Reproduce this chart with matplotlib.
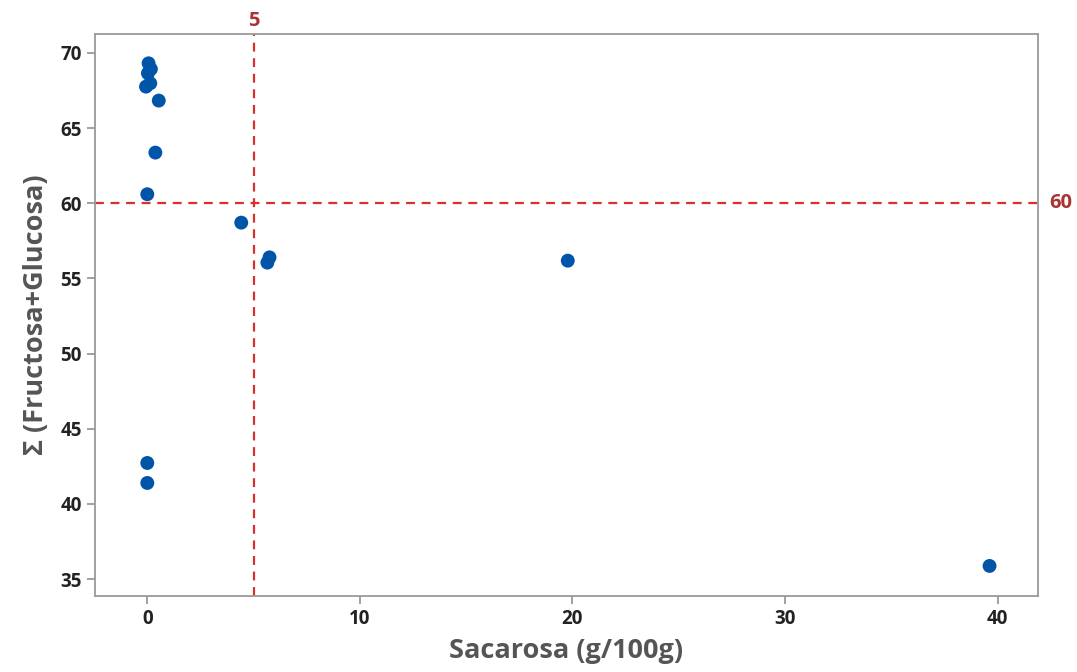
import matplotlib
matplotlib.use("Agg")
import matplotlib.pyplot as plt

plt.rcParams['font.family'] = ['Open Sans', 'DejaVu Sans']

# Sacarosa (g/100g) vs suma de fructosa + glucosa
sacarosa = [0.06, 0.17, 0.03, 0.14, -0.06, 0.54, 0.38, 0.0, 4.42,
            5.75, 5.65, 19.78, 0.0, 0.0, 39.62]
fru_glu = [69.31, 68.93, 68.65, 67.98, 67.76, 66.83, 63.37, 60.6, 58.71,
           56.4, 56.05, 56.18, 42.72, 41.39, 35.87]

x_ref = 5
y_ref = 60
x_ticks = [0, 10, 20, 30, 40]
y_ticks = [35, 40, 45, 50, 55, 60, 65, 70]

fig = plt.figure(figsize=(10.77, 6.72), dpi=100)
ax = fig.add_axes([0.0882, 0.1131, 0.8756, 0.8363])

ax.axvline(x_ref, color='#d9302c', linestyle=(0, (4, 3)), linewidth=1.6, zorder=1)
ax.axhline(y_ref, color='#d9302c', linestyle=(0, (4, 3)), linewidth=1.6, zorder=1)
ax.scatter(sacarosa, fru_glu, s=100, color='#0055a8', edgecolors='none', zorder=3)

ax.set_xlim(-2.46, 41.9)
ax.set_ylim(33.87, 71.26)
ax.set_xticks(x_ticks)
ax.set_yticks(y_ticks)

for sp in ax.spines.values():
    sp.set_color('#9a9a9a')
    sp.set_linewidth(1.3)
ax.tick_params(colors='#9a9a9a', length=6, width=1.3, labelcolor='#222222', labelsize=13.5)
for lab in ax.get_xticklabels() + ax.get_yticklabels():
    lab.set_fontweight('bold')

ax.set_xlabel('Sacarosa (g/100g)', fontsize=19.5, fontweight='bold', color='#555555', labelpad=6)
ax.set_ylabel('Σ (Fructosa+Glucosa)', fontsize=19.5, fontweight='bold', color='#555555', labelpad=8)

ax.text(x_ref, 1.005, str(x_ref), transform=ax.get_xaxis_transform(), ha='center', va='bottom',
        color='#a83434', fontsize=14.5, fontweight='bold')
ax.text(1.012, y_ref, str(y_ref), transform=ax.get_yaxis_transform(), ha='left', va='center',
        color='#a83434', fontsize=14.5, fontweight='bold')

fig.savefig('out.png', dpi=100)
